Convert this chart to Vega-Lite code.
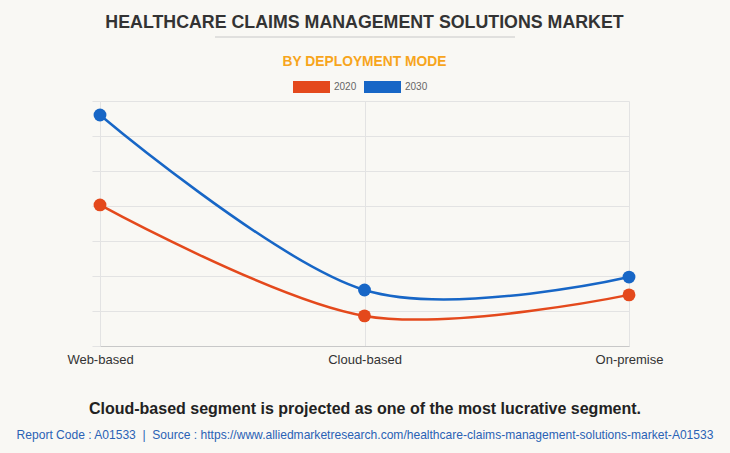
{
  "$schema": "https://vega.github.io/schema/vega-lite/v6.json",
  "width": 529,
  "height": 245,
  "autosize": {"type": "none"},
  "padding": {"left": 100, "top": 101, "right": 101, "bottom": 107},
  "background": "#f9f8f4",
  "title": {
    "text": "HEALTHCARE CLAIMS MANAGEMENT SOLUTIONS MARKET",
    "subtitle": "BY DEPLOYMENT MODE",
    "anchor": "middle",
    "font": "Liberation Sans",
    "fontSize": 17.8,
    "fontWeight": "bold",
    "color": "#333333",
    "subtitleFont": "Liberation Sans",
    "subtitleFontSize": 13.8,
    "subtitleFontWeight": "bold",
    "subtitleColor": "#f7a51c",
    "subtitlePadding": 23,
    "offset": -32
  },
  "config": {"view": {"stroke": null}},
  "data": {
    "values": [
      {"segment": "Web-based", "year": "2020", "value": 4.03},
      {"segment": "Cloud-based", "year": "2020", "value": 0.86},
      {"segment": "On-premise", "year": "2020", "value": 1.46},
      {"segment": "Web-based", "year": "2030", "value": 6.6},
      {"segment": "Cloud-based", "year": "2030", "value": 1.6},
      {"segment": "On-premise", "year": "2030", "value": 1.97}
    ]
  },
  "encoding": {
    "x": {
      "field": "segment", "type": "nominal",
      "sort": ["Web-based", "Cloud-based", "On-premise"],
      "scale": {"type": "point", "padding": 0},
      "axis": {
        "title": "Cloud-based segment is projected as one of the most lucrative segment.",
        "titleFont": "Liberation Sans", "titleFontSize": 16, "titleFontWeight": "bold", "titleColor": "#222222",
        "titlePadding": 34,
        "labelAngle": 0, "labelFont": "Liberation Sans", "labelFontSize": 13, "labelColor": "#333333",
        "labelPadding": 7, "ticks": false,
        "grid": true, "gridColor": "#e3e3e3",
        "domainColor": "#c8c8c8"
      }
    },
    "y": {
      "field": "value", "type": "quantitative",
      "scale": {"domain": [0, 7], "nice": false},
      "axis": {
        "title": null, "labels": false, "domain": false,
        "values": [0, 1, 2, 3, 4, 5, 6, 7],
        "grid": true, "gridColor": "#e3e3e3",
        "ticks": true, "tickSize": 8, "tickColor": "#e3e3e3"
      }
    },
    "color": {
      "field": "year", "type": "nominal",
      "scale": {"domain": ["2020", "2030"], "range": ["#e4491c", "#1766c6"]},
      "legend": {
        "title": null,
        "orient": "none",
        "direction": "horizontal",
        "legendX": 201.5,
        "legendY": -24,
        "padding": 0,
        "symbolType": "M-1.85,-0.6H1.85V0.6H-1.85Z",
        "symbolSize": 400,
        "symbolStrokeWidth": 0,
        "symbolOpacity": 1,
        "labelFont": "Liberation Sans",
        "labelFontSize": 10,
        "labelColor": "#666666",
        "labelOffset": 12.5,
        "columnPadding": 7,
        "encode": {
          "symbols": {
            "update": {
              "fill": {"scale": "color", "field": "value"},
              "stroke": {"value": "transparent"},
              "opacity": {"value": 1}
            }
          }
        }
      }
    }
  },
  "layer": [
    {
      "mark": {"type": "line", "interpolate": "cardinal", "strokeWidth": 2.5}
    },
    {
      "mark": {"type": "point", "filled": true, "size": 165, "opacity": 1}
    },
    {
      "data": {"values": [{"t": "Report Code : A01533 \u00a0|\u00a0 Source : https://www.alliedmarketresearch.com/healthcare-claims-management-solutions-market-A01533"}]},
      "mark": {"type": "text", "font": "Liberation Sans", "fontSize": 12.05, "color": "#2a62b5", "align": "center", "baseline": "middle"},
      "encoding": {
        "text": {"field": "t"},
        "x": {"value": 265},
        "y": {"value": 334},
        "color": {"value": "#2a62b5"}
      }
    },
    {
      "data": {"values": [{"a": 1}]},
      "mark": {"type": "rule", "color": "#c8c8c8", "strokeWidth": 1},
      "encoding": {
        "x": {"value": 115},
        "x2": {"value": 415},
        "y": {"value": -64},
        "color": {"value": "#c8c8c8"}
      }
    }
  ]
}
